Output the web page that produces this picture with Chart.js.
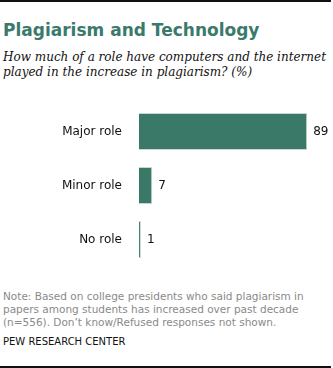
<!DOCTYPE html>
<html>
<head>
<meta charset="utf-8">
<script src="https://cdn.jsdelivr.net/npm/chart.js@4"></script>
<style>
  html, body { margin: 0; padding: 0; background: #fff; }
  #wrap { position: relative; width: 333px; height: 368px; overflow: hidden; }
  .rule { position: absolute; left: 0; width: 331px; height: 2px; background: #111; }
  #title {
    position: absolute; left: 3px; top: 20px; white-space: nowrap;
    font: bold 17px "DejaVu Sans", sans-serif; color: #3b7a6b;
  }
  #sub {
    position: absolute; left: 3px; top: 50px; white-space: nowrap;
    font: italic 12px/15px "DejaVu Serif", serif; color: #111;
  }
  #note {
    position: absolute; left: 3px; top: 290px; white-space: nowrap;
    font: 10.5px/13px "DejaVu Sans", sans-serif; color: #8a8a8a;
  }
  #source {
    position: absolute; left: 3px; top: 336px; white-space: nowrap;
    font: 10px "DejaVu Sans", sans-serif; color: #111;
  }
  #bar-chart { position: absolute; left: 0; top: 100px; }
</style>
</head>
<body>
<div id="wrap">
  <div class="rule" style="top:0"></div>
  <div id="title">Plagiarism and Technology</div>
  <div id="sub">How much of a role have computers and the internet<br>played in the increase in plagiarism? (%)</div>
  <canvas id="bar-chart" width="333" height="170"></canvas>
  <div id="note">Note: Based on college presidents who said plagiarism in<br>papers among students has increased over past decade<br>(n=556). Don’t know/Refused responses not shown.</div>
  <div id="source">PEW RESEARCH CENTER</div>
  <div class="rule" style="top:366px"></div>
</div>

<script>
const categories = ['Major role', 'Minor role', 'No role'];
const values = [89, 7, 1];

const barColor = '#3a7868';
const barEdge = '#c9d6d1';
const labelFont = { size: 12, family: 'DejaVu Sans' };

// prints each value just past the end of its bar
const valueLabels = {
  id: 'valueLabels',
  afterDatasetsDraw(chart) {
    const ctx = chart.ctx;
    const meta = chart.getDatasetMeta(0);
    ctx.save();
    ctx.font = labelFont.size + 'px ' + labelFont.family;
    ctx.fillStyle = '#111';
    ctx.textBaseline = 'middle';
    ctx.textAlign = 'left';
    meta.data.forEach((bar, i) => {
      ctx.fillText(String(values[i]), bar.x + 6, bar.y);
    });
    ctx.restore();
  }
};

new Chart(document.getElementById('bar-chart'), {
  type: 'bar',
  data: {
    labels: categories,
    datasets: [{
      data: values,
      backgroundColor: barColor,
      borderColor: barEdge,
      borderWidth: 1,
      categoryPercentage: 1,
      barPercentage: 0.685
    }]
  },
  options: {
    indexAxis: 'y',
    responsive: false,
    animation: false,
    layout: { padding: { top: 4.5, bottom: 3.5, right: 5, left: 0 } },
    plugins: {
      legend: { display: false },
      tooltip: { enabled: false }
    },
    scales: {
      x: { display: false, min: 0, max: 100 },
      y: {
        grid: { display: false },
        border: { display: false },
        // fixed label column, and no extra room for the end labels
        afterFit: (scale) => {
          scale.width = 139;
          scale.paddingTop = 0;
          scale.paddingBottom = 0;
        },
        ticks: {
          color: '#111',
          font: labelFont,
          padding: 9
        }
      }
    }
  },
  plugins: [valueLabels]
});
</script>
</body>
</html>
